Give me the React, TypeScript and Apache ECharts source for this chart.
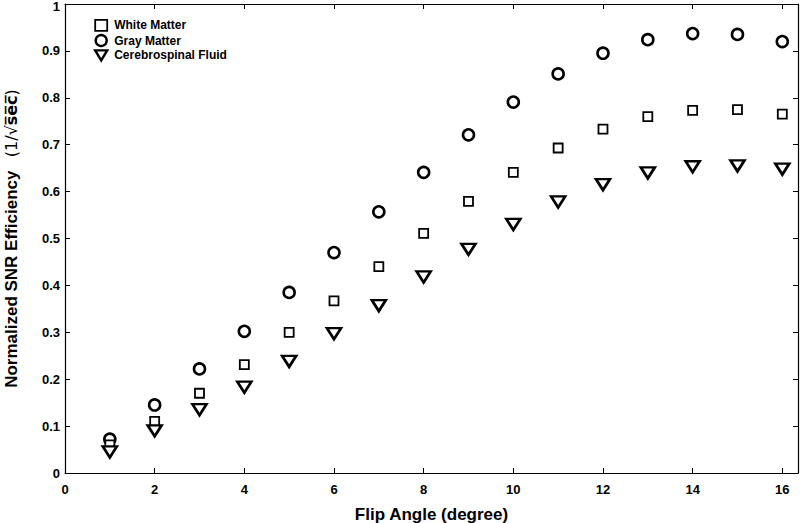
import React, { useEffect, useRef } from "react";
import * as echarts from "echarts";

const flipAngles = [1, 2, 3, 4, 5, 6, 7, 8, 9, 10, 11, 12, 13, 14, 15, 16];
const whiteMatter = [0.06, 0.11, 0.17, 0.231, 0.3, 0.367, 0.44, 0.511, 0.579, 0.641, 0.693, 0.733, 0.76, 0.773, 0.775, 0.765];
const grayMatter = [0.072, 0.145, 0.222, 0.302, 0.385, 0.47, 0.557, 0.641, 0.721, 0.791, 0.851, 0.895, 0.924, 0.937, 0.935, 0.92];
const csf = [0.045, 0.09, 0.135, 0.183, 0.238, 0.297, 0.357, 0.418, 0.477, 0.53, 0.578, 0.615, 0.64, 0.653, 0.655, 0.648];
const seriesNames = ["White Matter", "Gray Matter", "Cerebrospinal Fluid"];

const pairs = (ys: number[]) => flipAngles.map((x, i) => [x, ys[i]]);

export default function App() {
  const ref = useRef<HTMLDivElement>(null);
  useEffect(() => {
    if (!ref.current) return;
    const chart = echarts.init(ref.current, undefined, { renderer: "svg" });
    const font = "Arial, 'Liberation Sans', sans-serif";
    const axisCommon = {
      axisLine: { show: true, onZero: false, lineStyle: { color: "#000", width: 1.2 } },
      axisTick: { show: true, inside: true, length: 5, lineStyle: { color: "#000", width: 1 } },
      splitLine: { show: false },
    };
    const triPath = "path://M0,0 L12,0 L6,10 Z";
    const tickFont = { fontFamily: font, fontWeight: "bold", fontSize: 13, color: "#000" };
    chart.setOption({
      animation: false,
      backgroundColor: "#fff",
      grid: { left: 65, right: 2, top: 4, bottom: 50, containLabel: false, outerBoundsMode: "none" },
      legend: {
        left: 94,
        top: 19,
        padding: 0,
        orient: "vertical",
        itemWidth: 12,
        itemHeight: 11,
        itemGap: 2,
        textStyle: { fontFamily: font, fontWeight: "bold", fontSize: 12, color: "#000", padding: [0, 0, 0, 2] },
        data: [
          { name: seriesNames[0], icon: "rect", itemStyle: { color: "#fff", borderColor: "#000", borderWidth: 1.8 } },
          { name: seriesNames[1], icon: "circle", itemStyle: { color: "#fff", borderColor: "#000", borderWidth: 2.4 } },
          { name: seriesNames[2], icon: triPath, itemStyle: { color: "#fff", borderColor: "#000", borderWidth: 2.4 } },
        ],
      },
      xAxis: [
        {
          type: "value",
          min: 0,
          max: 16.35,
          interval: 2,
          ...axisCommon,
          axisLabel: {
            margin: 10,
            ...tickFont,
            showMaxLabel: false,
            formatter: (v: number) => (v % 2 === 0 ? String(v) : ""),
          },
          name: "Flip Angle (degree)",
          nameLocation: "middle",
          nameGap: 33,
          nameTextStyle: { fontFamily: font, fontWeight: "bold", fontSize: 17, color: "#000" },
        },
        {
          type: "value",
          position: "top",
          min: 0,
          max: 16.35,
          interval: 2,
          ...axisCommon,
          axisLabel: { show: false },
        },
      ],
      yAxis: [
        {
          type: "value",
          min: 0,
          max: 1,
          interval: 0.1,
          ...axisCommon,
          axisLabel: {
            margin: 5,
            ...tickFont,
            formatter: (v: number) => (v === 0 ? "0" : v === 1 ? "{t|1}" : v.toFixed(1)),
            rich: { t: { ...tickFont, padding: [5, 0, 0, 0] } },
          },
          name: "{a|Normalized SNR Efficiency}    {b|(1/√}{c|s̅e̅c̅}{b|)}",
          nameLocation: "middle",
          nameGap: 45,
          nameTextStyle: {
            rich: {
              a: { fontFamily: font, fontWeight: "bold", fontSize: 17, color: "#000" },
              b: { fontFamily: "'DejaVu Sans', sans-serif", fontSize: 16, color: "#000" },
              c: { fontFamily: "'DejaVu Sans', sans-serif", fontWeight: "bold", fontSize: 16, color: "#000" },
            },
          },
        },
        {
          type: "value",
          position: "right",
          min: 0,
          max: 1,
          interval: 0.1,
          ...axisCommon,
          axisLabel: { show: false },
        },
      ],
      series: [
        {
          name: seriesNames[0],
          type: "scatter",
          data: pairs(whiteMatter),
          symbol: "rect",
          symbolSize: 9,
          itemStyle: { color: "#fff", borderColor: "#000", borderWidth: 1.8, opacity: 1 },
          z: 3,
        },
        {
          name: seriesNames[1],
          type: "scatter",
          data: pairs(grayMatter),
          symbol: "circle",
          symbolSize: 11,
          itemStyle: { color: "rgba(255,255,255,0)", borderColor: "#000", borderWidth: 2.6, opacity: 1 },
          z: 2,
        },
        {
          name: seriesNames[2],
          type: "scatter",
          data: pairs(csf),
          symbol: triPath,
          symbolSize: [14, 11],
          itemStyle: { color: "#fff", borderColor: "#000", borderWidth: 2.6, opacity: 1 },
          z: 4,
        },
      ],
    });
    return () => chart.dispose();
  }, []);
  return <div ref={ref} style={{ width: 800, height: 523, position: "absolute", left: 0, top: 0 }} />;
}
